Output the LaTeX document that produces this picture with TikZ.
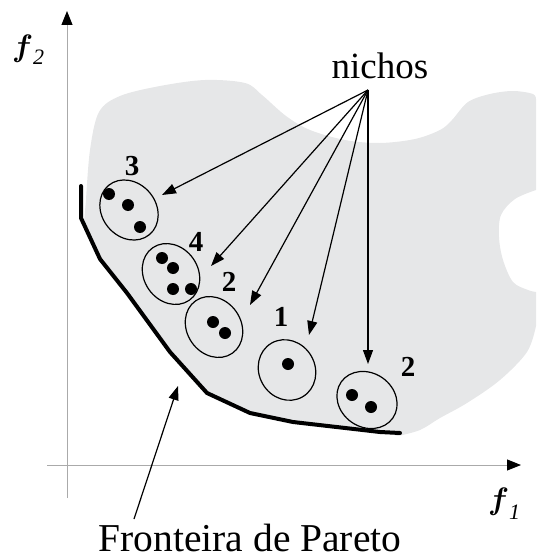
\documentclass[tikz,border=0pt]{standalone}
\usepackage{fix-cm}
\usepackage{fontspec}
\setmainfont{Liberation Serif}
\usetikzlibrary{arrows.meta,shapes.geometric}
\definecolor{region}{HTML}{E6E7E8}
\definecolor{axisgray}{HTML}{AAAAAA}
\tikzset{
  pointer/.style={line width=1.2pt,-{Triangle[length=14pt,width=10pt]}},
  axisline/.style={draw=axisgray,line width=1pt,-{Triangle[length=14pt,width=11pt,color=black]}},
  niche/.style={ellipse,draw,line width=1.2pt,inner sep=0pt},
  sol/.style={circle,fill=black,inner sep=0pt,minimum size=12pt},
  count/.style={font=\fontsize{29}{31}\selectfont\bfseries,inner sep=0pt},
  front/.style={line width=4pt,line join=round,line cap=round},
  axislabel/.style={anchor=base west,inner sep=0pt,font=\fontsize{31}{34}\selectfont\boldmath},
  axissub/.style={anchor=base west,inner sep=0pt,font=\fontsize{22}{24}\selectfont\itshape},
}
\begin{document}
\begin{tikzpicture}[x=1pt,y=-1pt]
\useasboundingbox (0,0) rectangle (536,559);

% objective space (shaded region)
\fill[region] plot[smooth,tension=0.55] coordinates {
  (86,200) (90,150) (99,112) (120,96) (160,86) (205,80) (245,83) (262,95)
  (286,116) (310,130) (345,140) (380,143) (415,139) (440,130) (452,120)
  (468,102) (490,94) (513,91) (533,94) (536,100)}
  -- (536,190)
  -- plot[smooth,tension=0.55] coordinates {(536,190) (515,199) (501,215) (499,237)
  (503,260) (513,282) (528,290) (536,292)}
  -- (536,326)
  -- plot[smooth,tension=0.55] coordinates {(536,326) (527,352) (500,380) (467,403)
  (440,418) (420,430) (398,436)}
  -- (380,431) -- (293,421) -- (250,412) -- (208,392) -- (171,351)
  -- (128,292) -- (102,259) -- (84,222) -- cycle;

% axes
\coordinate (o2) at (67,498);
\coordinate (top) at (67,11);
\coordinate (o1) at (47,465);
\coordinate (right) at (521,465);
\draw[axisline] (o2) -- (top);
\draw[axisline] (o1) -- (right);

\node[axislabel] (f2) at (12,57) {$f$};
\node[axissub] (f2s) at (33,65) {2};
\node[axislabel] (f1) at (488,509) {$f$};
\node[axissub] (f1s) at (509,519) {1};

% Pareto front
\draw[front] (81,186) -- (81,218) -- (100,259) -- (127,293) -- (170,352)
  -- (207,393) -- (250,413) -- (293,422) -- (380,432) -- (400,433);

% niches
\node[niche,minimum width=64pt,minimum height=54pt,rotate=-50] (e3) at (129,210) {};
\node[niche,minimum width=64pt,minimum height=54pt,rotate=-55] (e4) at (171,274) {};
\node[niche,minimum width=64pt,minimum height=54pt,rotate=-55] (e2a) at (214,327) {};
\node[niche,minimum width=62pt,minimum height=56pt,rotate=-60] (e1) at (287,370) {};
\node[niche,minimum width=63pt,minimum height=54pt,rotate=-35] (e2b) at (367,400) {};

% solutions
\node[sol] (s31) at (109,194) {};
\node[sol] (s32) at (128,205) {};
\node[sol] (s33) at (140,227) {};
\node[sol] (s41) at (162,258) {};
\node[sol] (s42) at (173,268) {};
\node[sol] (s43) at (173,289) {};
\node[sol] (s44) at (191,289) {};
\node[sol] (s21) at (213,322) {};
\node[sol] (s22) at (225,333) {};
\node[sol] (s11) at (288,364) {};
\node[sol] (s51) at (352,395) {};
\node[sol] (s52) at (371,407) {};

% niche counts
\node[count] (n3) at (132,166) {3};
\node[count] (n4) at (196,242) {4};
\node[count] (n2a) at (229,282) {2};
\node[count] (n1) at (281,317) {1};
\node[count] (n2b) at (408,367) {2};

% labels and pointers
\node[anchor=base,inner sep=0pt,font=\fontsize{37}{40}\selectfont] (nichos) at (380,79) {nichos};
\coordinate (hub) at (368,90);
\coordinate (t3) at (162,195);
\coordinate (t4) at (211,266);
\coordinate (t2a) at (250,305);
\coordinate (t1) at (309,335);
\coordinate (t2b) at (368,364);
\draw[pointer] (hub) -- (t3);
\draw[pointer] (hub) -- (t4);
\draw[pointer] (hub) -- (t2a);
\draw[pointer] (hub) -- (t1);
\draw[pointer] (hub) -- (t2b);

\node[anchor=base,inner sep=0pt,font=\fontsize{39.5}{42}\selectfont] (fronteira) at (250,551) {Fronteira de Pareto};
\coordinate (ftail) at (134,519);
\coordinate (ftip) at (178,386);
\draw[pointer] (ftail) -- (ftip);
\end{tikzpicture}
\end{document}
